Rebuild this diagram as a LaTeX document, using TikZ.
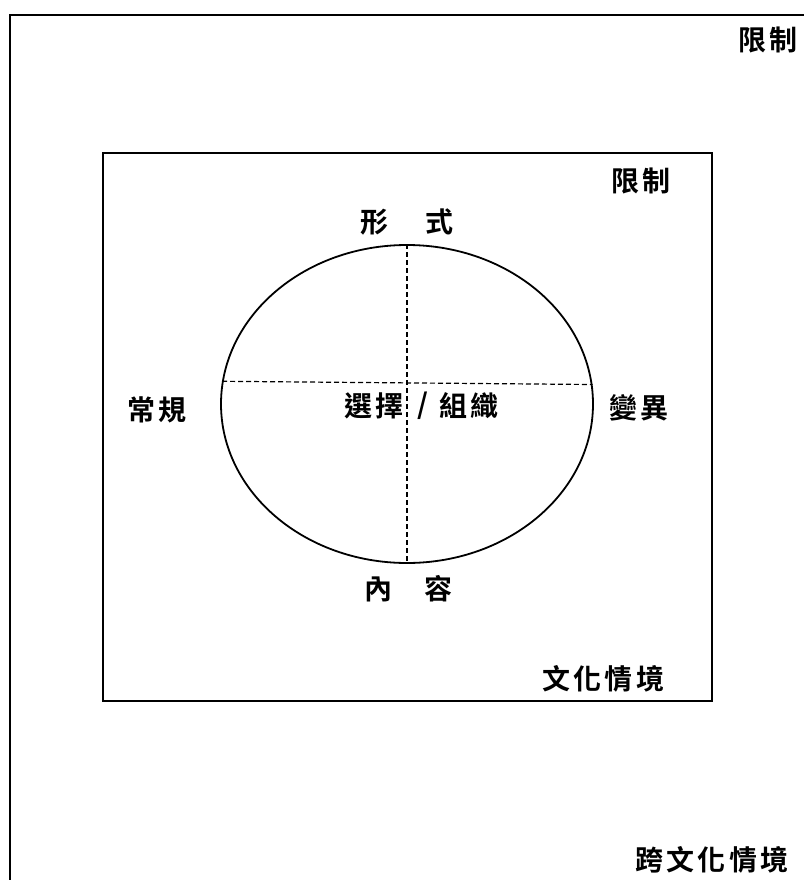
\documentclass[tikz,border=0pt]{standalone}
\usepackage{fontspec}
\newfontfamily\cjk[BoldFont=* Bold, LetterSpace=12]{Noto Sans CJK TC}
\usetikzlibrary{shapes.geometric}
\begin{document}
\begin{tikzpicture}[x=1pt,y=-1pt,
  lbl/.style={font=\cjk\bfseries\fontsize{28}{28}\selectfont, inner sep=0pt, anchor=west},
  frame/.style={line width=2pt},
  divider/.style={line width=1.2pt, dash pattern=on 5pt off 3pt}]
\useasboundingbox (0,0) rectangle (803,880);
% outer frame (only top and left visible)
\coordinate (oTL) at (10,15);
\coordinate (oTR) at (803,15);
\coordinate (oBL) at (10,880);
\draw[frame, line cap=rect] (oBL) -- (oTL) -- (oTR);
% inner frame
\node[draw, line width=1.8pt, minimum width=609pt, minimum height=548pt, inner sep=0pt] (inner) at (407.5,427) {};
% ellipse
\node[draw, ellipse, line width=1.8pt, minimum width=372pt, minimum height=318pt, inner sep=0pt] (ell) at (407,404) {};
\draw[divider] (ell.north) -- (ell.south);
\draw[divider] (ell.173.2) -- (ell.6.8);
% labels
\node[lbl] (limO) at (738,40) {限制};
\node[lbl] (limI) at (611,181) {限制};
\node[lbl] (form1) at (360,222) {形};
\node[lbl] (form2) at (425,222) {式};
\node[lbl] (conv) at (127,410) {常規};
\node[lbl] (sel) at (344,406) {選擇};
\node[lbl] (slash) at (417,406) {/};
\node[lbl] (org) at (439,406) {組織};
\node[lbl] (var) at (609,408) {變異};
\node[lbl] (cont1) at (364,589) {內};
\node[lbl] (cont2) at (424,589) {容};
\node[lbl] (cult) at (542,679) {文化情境};
\node[lbl] (cross) at (635,860) {跨文化情境};
\end{tikzpicture}
\end{document}
